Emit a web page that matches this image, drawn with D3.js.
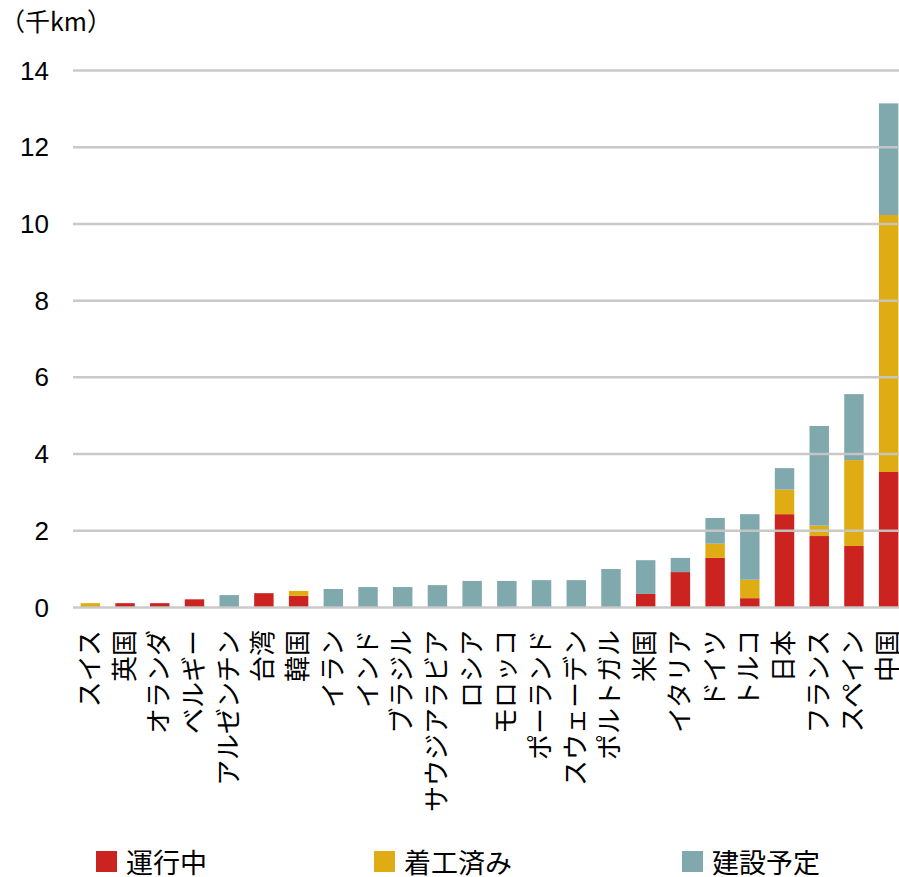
<!DOCTYPE html>
<html>
<head>
<meta charset="utf-8">
<script src="https://cdn.jsdelivr.net/npm/d3@7"></script>
<style>
  html, body { margin: 0; padding: 0; background: #fff; }
  svg { display: block; }
  text { font-family: "Liberation Sans", Arial, "Noto Sans CJK JP", sans-serif; fill: #000; }
  .cjk { font-family: "Noto Sans CJK JP", "Liberation Sans", sans-serif; }
</style>
</head>
<body>
<script>
const categories = ["スイス","英国","オランダ","ベルギー","アルゼンチン","台湾","韓国","イラン","インド","ブラジル","サウジアラビア","ロシア","モロッコ","ポーランド","スウェーデン","ポルトガル","米国","イタリア","ドイツ","トルコ","日本","フランス","スペイン","中国"];
const operating      = [0, 0.10, 0.10, 0.20, 0, 0.36, 0.29, 0, 0, 0, 0, 0, 0, 0, 0, 0, 0.34, 0.91, 1.28, 0.23, 2.42, 1.85, 1.59, 3.52];
const underConstr    = [0.10, 0, 0, 0, 0, 0, 0.13, 0, 0, 0, 0, 0, 0, 0, 0, 0, 0, 0, 0.37, 0.48, 0.64, 0.27, 2.24, 6.70];
const planned        = [0, 0, 0, 0, 0.31, 0, 0, 0.47, 0.52, 0.52, 0.57, 0.68, 0.68, 0.70, 0.70, 0.99, 0.88, 0.37, 0.67, 1.71, 0.56, 2.60, 1.72, 2.91];
const seriesNames = ["運行中", "着工済み", "建設予定"];
const seriesColors = ["#CB2420", "#E0AC14", "#80A9AD"];
const yTicks = [0, 2, 4, 6, 8, 10, 12, 14];
const unitLabel = "（千km）";

const W = 899, H = 877;
const svg = d3.select("body").append("svg").attr("width", W).attr("height", H);

const x = d3.scaleBand().domain(categories).range([73, 906]).paddingInner(0.44).paddingOuter(0.22);
const y = d3.scaleLinear().domain([0, 14]).range([607, 70]);

const table = categories.map((c, i) => ({cat: c, s0: operating[i], s1: underConstr[i], s2: planned[i]}));
const stack = d3.stack().keys(["s0", "s1", "s2"]);
const layers = stack(table);

// bars
svg.append("g").selectAll("g").data(layers).join("g")
  .attr("fill", (d, i) => seriesColors[i])
  .selectAll("rect").data(d => d).join("rect")
  .attr("x", d => x(d.data.cat))
  .attr("width", x.bandwidth())
  .attr("y", d => y(d[1]))
  .attr("height", d => Math.max(0, y(d[0]) - y(d[1])));

// gridlines
const yAxis = d3.axisLeft(y).tickValues(yTicks).tickSize(-(W - 73)).tickPadding(24).tickFormat(d3.format("d"));
const gy = svg.append("g").attr("transform", "translate(73,0)").call(yAxis);
gy.select(".domain").remove();
gy.selectAll(".tick line").attr("stroke", "#C6C6C6").attr("stroke-width", 2.5).attr("stroke-opacity", 0.95);
gy.selectAll(".tick text").attr("font-size", 26).attr("font-family", "'Liberation Sans', Arial, sans-serif").attr("fill", "#000").attr("dy", "0.35em");

// unit label
svg.append("text").attr("class", "cjk").attr("x", 0).attr("y", 20)
  .attr("font-size", 25).attr("dominant-baseline", "central").text(unitLabel);

// x labels (rotated)
const xAxis = d3.axisBottom(x).tickSize(0).tickPadding(0);
const gx = svg.append("g").attr("transform", "translate(0,607)").call(xAxis);
gx.select(".domain").remove();
gx.selectAll(".tick text")
  .attr("class", "cjk")
  .attr("font-size", 26)
  .attr("font-family", "'Noto Sans CJK JP', sans-serif")
  .attr("fill", "#000")
  .attr("text-anchor", "end")
  .attr("dominant-baseline", "central")
  .attr("transform", "translate(-3,23) rotate(-90)")
  .attr("x", 0).attr("y", 0).attr("dy", null);

// legend
const legendX = [96, 374, 682];
const lg = svg.append("g").selectAll("g").data(seriesNames).join("g")
  .attr("transform", (d, i) => `translate(${legendX[i]},851)`);
lg.append("rect").attr("width", 21).attr("height", 21).attr("fill", (d, i) => seriesColors[i]);
lg.append("text").attr("class", "cjk").attr("x", 30).attr("y", 10.5)
  .attr("font-size", 27).attr("dominant-baseline", "central").text(d => d);
</script>
</body>
</html>
